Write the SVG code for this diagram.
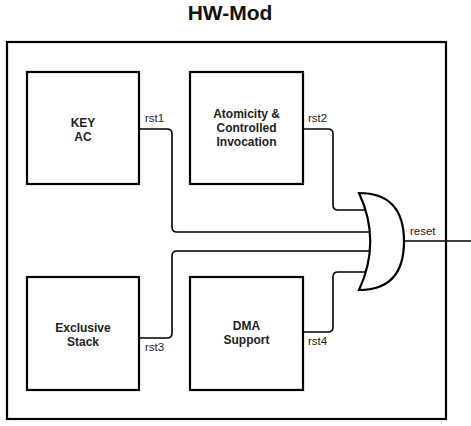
<svg xmlns="http://www.w3.org/2000/svg" width="471" height="426" viewBox="0 0 471 426">
<style>
.box{fill:#fff;stroke:#000;stroke-width:2.2}
.wire{fill:none;stroke:#000;stroke-width:1.6}
.lbl{font-family:"Liberation Sans",Arial,sans-serif;font-size:12px;font-weight:bold;text-anchor:middle;fill:#222}
.sig{font-family:"Liberation Sans",Arial,sans-serif;font-size:11.5px;fill:#222}
.title{font-family:"Liberation Sans",Arial,sans-serif;font-size:21px;font-weight:bold;text-anchor:middle;fill:#111}
</style>
<rect width="471" height="426" fill="#fff"/>
<g id="hwmod">
<text class="title" x="230" y="19.5">HW-Mod</text>
<rect class="box" x="7" y="42" width="439" height="377"/>
</g>
<g id="connectors">
<path class="wire" d="M139,129 H167 Q172,129 172,134 V227 Q172,232 177,232 H371"/>
<path class="wire" d="M303,129 H328 Q333,129 333,134 V205 Q333,210 338,210 H367"/>
<path class="wire" d="M139,338 H167 Q172,338 172,333 V256 Q172,251 177,251 H371"/>
<path class="wire" d="M303,332 H328 Q333,332 333,327 V277 Q333,272 338,272 H367"/>
<path class="wire" d="M404,241 H471"/>
<text class="sig" x="145" y="122">rst1</text>
<text class="sig" x="308" y="122">rst2</text>
<text class="sig" x="145" y="351">rst3</text>
<text class="sig" x="308" y="345">rst4</text>
<text class="sig" x="410" y="235">reset</text>
</g>
<g id="keyac">
<rect class="box" x="27" y="72" width="112" height="112"/>
<text class="lbl" x="83" y="126.5">KEY</text>
<text class="lbl" x="83" y="141">AC</text>
</g>
<g id="atomicity">
<rect class="box" x="190" y="72" width="113" height="112"/>
<text class="lbl" x="246.5" y="118">Atomicity &amp;</text>
<text class="lbl" x="246.5" y="132">Controlled</text>
<text class="lbl" x="246.5" y="146">Invocation</text>
</g>
<g id="exclusive">
<rect class="box" x="27" y="277" width="112" height="113"/>
<text class="lbl" x="83" y="331.5">Exclusive</text>
<text class="lbl" x="83" y="345.5">Stack</text>
</g>
<g id="dma">
<rect class="box" x="190" y="277" width="113" height="113"/>
<text class="lbl" x="246.5" y="330">DMA</text>
<text class="lbl" x="246.5" y="344">Support</text>
</g>
<g id="orgate">
<path class="box" d="M359,193 Q404,193 404,241.5 Q404,290 359,290 Q381.5,241.5 359,193 Z"/>
</g>
</svg>
